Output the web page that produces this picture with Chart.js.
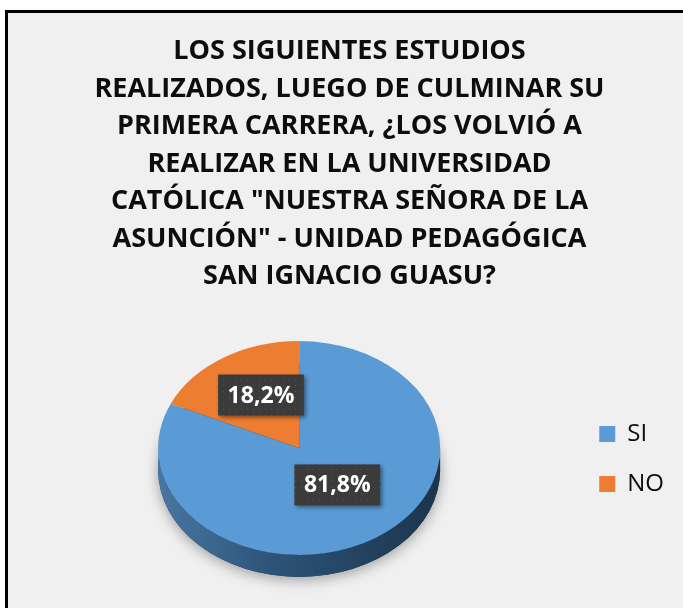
<!DOCTYPE html>
<html>
<head>
<meta charset="utf-8">
<script src="https://cdn.jsdelivr.net/npm/chart.js@4.4.0/dist/chart.umd.min.js"></script>
<style>
    html, body { margin: 0; padding: 0; background: #fff; overflow: hidden; }
    #frame { position: absolute; left: 5px; top: 10px; width: 700px; height: 620px; background: #f0f0f0; border-left: 3px solid #000; border-top: 3px solid #000; }
    #chart { position: absolute; left: 0; top: 0; }
</style>
</head>
<body>
<div id="frame"></div>
<canvas id="chart" width="683" height="608"></canvas>
<script>
const categories = ['SI', 'NO'];
const percentages = [81.8, 18.2];
const titleLines = [
    'LOS SIGUIENTES ESTUDIOS',
    'REALIZADOS, LUEGO DE CULMINAR SU',
    'PRIMERA CARRERA, ¿LOS VOLVIÓ A',
    'REALIZAR EN LA UNIVERSIDAD',
    'CATÓLICA "NUESTRA SEÑORA DE LA',
    'ASUNCIÓN" - UNIDAD PEDAGÓGICA',
    'SAN IGNACIO GUASU?'
];

const sliceColors = ['#5B9BD5', '#ED7D31'];
const sideColors = [['#4877a3', '#2d5478', '#1c344c'], ['#c0641f', '#a4521a', '#7d3e12']];

const TILT = 0.758;   // vertical squash of the pie
const DEPTH = 22;     // thickness of the pie
const LABEL_LIFT = 8; // perspective: labels sit a bit higher

function fmt(v) {
    return v.toFixed(1).replace('.', ',') + '%';
}

function dotPattern(ctx) {
    const c = document.createElement('canvas');
    c.width = 6;
    c.height = 6;
    const p = c.getContext('2d');
    p.fillStyle = '#3b3b3b';
    p.fillRect(0, 0, 6, 6);
    p.fillStyle = '#565656';
    p.fillRect(1, 1, 1, 1);
    return ctx.createPattern(c, 'repeat');
}

const pie3d = {
    id: 'pie3d',
    beforeDatasetsDraw(chart) {
        const ctx = chart.ctx;
        const arcs = chart.getDatasetMeta(0).data;
        const { x, y, outerRadius: r } = arcs[0];
        const topY = y - DEPTH / 2;
        const d = DEPTH / TILT;

        ctx.save();
        ctx.translate(x, topY);
        ctx.scale(1, TILT);
        ctx.translate(-x, -y);

        // soft shadow under the body
        ctx.save();
        ctx.shadowColor = 'rgba(0,0,0,0.35)';
        ctx.shadowBlur = 14;
        ctx.shadowOffsetY = 3;
        ctx.fillStyle = sideColors[0][2];
        ctx.beginPath();
        ctx.arc(x, y + d, r, 0, Math.PI * 2);
        ctx.fill();
        ctx.restore();

        // side walls, only the front half shows
        arcs.forEach((arc, i) => {
            for (const off of [-2 * Math.PI, 0, 2 * Math.PI]) {
                const s = Math.max(arc.startAngle + off, 0);
                const e = Math.min(arc.endAngle + off, Math.PI);
                if (e <= s) continue;
                const g = ctx.createLinearGradient(x - r, 0, x + r, 0);
                g.addColorStop(0, sideColors[i][0]);
                g.addColorStop(0.4, sideColors[i][1]);
                g.addColorStop(1, sideColors[i][2]);
                ctx.fillStyle = g;
                ctx.beginPath();
                ctx.arc(x, y + d, r, s, e);
                ctx.arc(x, y, r, e, s, true);
                ctx.closePath();
                ctx.fill();
            }
        });
    },
    afterDatasetsDraw(chart) {
        const ctx = chart.ctx;
        ctx.restore();

        const arcs = chart.getDatasetMeta(0).data;
        const { x, y } = arcs[0];
        const topY = y - DEPTH / 2;
        const values = chart.data.datasets[0].data;

        ctx.save();
        ctx.font = 'bold 23px "Open Sans"';
        ctx.textAlign = 'center';
        ctx.textBaseline = 'middle';
        const pattern = dotPattern(ctx);
        arcs.forEach((arc, i) => {
            const pos = arc.tooltipPosition();
            const lx = pos.x;
            const ly = topY + (pos.y - y) * TILT - LABEL_LIFT;
            const text = fmt(values[i]);
            const w = ctx.measureText(text).width + 19;
            const h = 41;
            ctx.save();
            ctx.shadowColor = 'rgba(0,0,0,0.45)';
            ctx.shadowBlur = 4;
            ctx.shadowOffsetX = 2;
            ctx.shadowOffsetY = 2;
            ctx.fillStyle = pattern;
            ctx.fillRect(lx - w / 2, ly - h / 2, w, h);
            ctx.restore();
            ctx.fillStyle = '#fff';
            ctx.fillText(text, lx, ly + 1);
        });
        ctx.restore();
    }
};

const ctx = document.getElementById('chart').getContext('2d');
const myChart = new Chart(ctx, {
    type: 'pie',
    data: {
        labels: categories,
        datasets: [{
            data: percentages,
            backgroundColor: sliceColors,
            borderWidth: 0,
            radius: 141,
            clip: false
        }]
    },
    options: {
        responsive: false,
        animation: false,
        events: [],
        layout: {
            padding: { left: 25, right: 9, top: 0, bottom: 0 }
        },
        plugins: {
            title: {
                display: true,
                text: titleLines,
                color: '#0d0d0d',
                font: { family: 'Open Sans', size: 27, weight: 'bold', lineHeight: '37.5px' },
                padding: { top: 33, bottom: 14.5 }
            },
            legend: {
                position: 'right',
                fullSize: false,
                labels: {
                    boxWidth: 16,
                    boxHeight: 16,
                    padding: 26,
                    color: '#0d0d0d',
                    font: { family: 'Open Sans', size: 24 }
                }
            },
            tooltip: { enabled: false }
        }
    },
    plugins: [pie3d]
});
</script>
</body>
</html>
